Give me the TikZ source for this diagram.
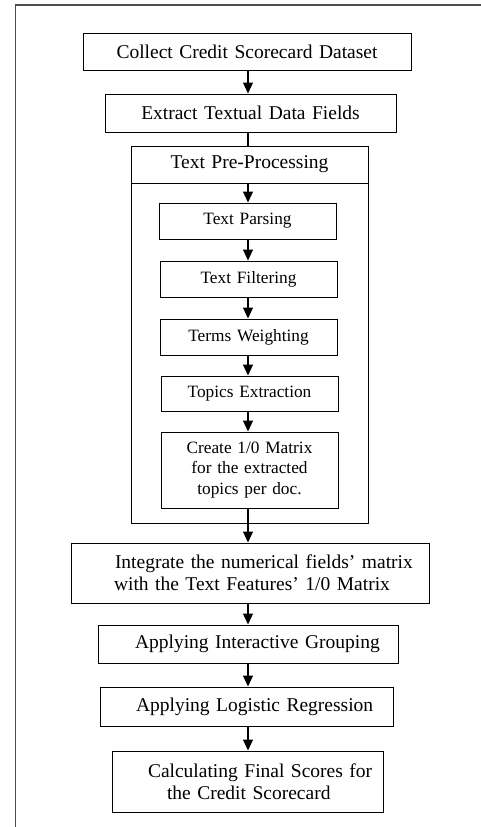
\documentclass[tikz,border=0pt]{standalone}
\usepackage{fontspec}
\setmainfont{Liberation Serif}
\usetikzlibrary{arrows.meta}
\tikzset{
  box/.style={draw, line width=1pt, inner xsep=0pt, inner ysep=0pt, align=center,
    font=\fontsize{19.5}{22}\selectfont},
  subbox/.style={draw, line width=1pt, inner xsep=0pt, inner ysep=0pt, align=center,
    text width=177pt, minimum height=36pt, font=\fontsize{17.3}{20.5}\selectfont},
  arr/.style={line width=1.1pt, -{Triangle[length=11pt,width=10pt]}},
  conn/.style={line width=1.1pt},
  frameline/.style={line width=1.6pt, draw=black!70}
}
\begin{document}
\begin{tikzpicture}[x=1pt,y=-1pt]
\useasboundingbox (0,0) rectangle (481,827);
\coordinate (ftl) at (15.5,5);
\coordinate (ftr) at (481,5);
\coordinate (fbl) at (15.5,827);
\draw[frameline] (ftr) -- (ftl) -- (fbl);

\node[box, text width=328pt, minimum height=37pt] (b1) at (247,51.5) {Collect Credit Scorecard Dataset};
\node[box, text width=291pt, minimum height=38pt] (b2) at (250.5,113) {Extract Textual Data Fields};
\node[draw, line width=1pt, minimum width=237pt, minimum height=377pt, inner sep=0pt] (pre) at (249.5,334.5) {};
\node[box, text width=237pt, minimum height=37pt] (hdr) at (249.5,164.5) {Text Pre-Processing};
\node[subbox] (p1) at (247.5,221) {Text Parsing};
\node[subbox] (p2) at (248.5,279) {Text Filtering};
\node[subbox] (p3) at (248.5,337) {Terms Weighting};
\node[subbox, minimum height=35pt] (p4) at (249.5,393.5) {Topics Extraction};
\node[subbox, minimum height=76pt] (p5) at (249.5,470) {Create 1/0 Matrix\\for the extracted\\topics per doc.};
\node[box, text width=358pt, minimum height=60pt, align=left] (b3) at (250,573)
  {\hspace*{44pt}Integrate the numerical fields’ matrix\\\hspace*{43pt}with the Text Features’ 1/0 Matrix};
\node[box, text width=300pt, minimum height=38pt, align=left] (b4) at (248,644)
  {\hspace*{37pt}Applying Interactive Grouping};
\node[box, text width=293pt, minimum height=39pt, align=left] (b5) at (246.5,706.5)
  {\hspace*{36pt}Applying Logistic Regression};
\node[box, text width=271pt, minimum height=61pt, align=left] (b6) at (247.5,781.5)
  {\hspace*{36pt}Calculating Final Scores for\\\hspace*{55pt}the Credit Scorecard};

\coordinate (ax) at (248,0);
\draw[arr] (ax |- b1.south) -- (ax |- b2.north);
\draw[conn] (ax |- b2.south) -- (ax |- hdr.north);
\draw[arr] (ax |- hdr.south) -- (ax |- p1.north);
\draw[arr] (ax |- p1.south) -- (ax |- p2.north);
\draw[arr] (ax |- p2.south) -- (ax |- p3.north);
\draw[arr] (ax |- p3.south) -- (ax |- p4.north);
\draw[arr] (ax |- p4.south) -- (ax |- p5.north);
\draw[arr] (ax |- p5.south) -- (ax |- b3.north);
\draw[arr] (ax |- b3.south) -- (ax |- b4.north);
\draw[arr] (ax |- b4.south) -- (ax |- b5.north);
\draw[arr] (ax |- b5.south) -- (ax |- b6.north);
\end{tikzpicture}
\end{document}
